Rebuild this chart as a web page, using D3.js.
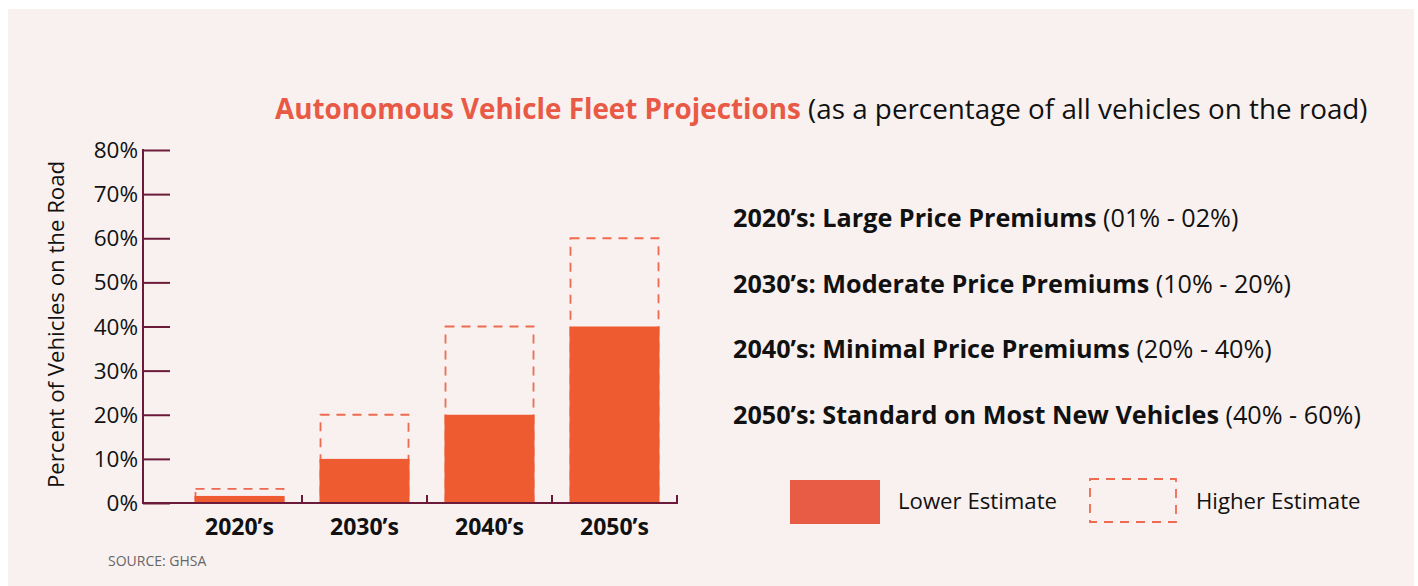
<!DOCTYPE html>
<html>
<head>
<meta charset="utf-8">
<script src="https://cdn.jsdelivr.net/npm/d3@7"></script>
<style>
  body { margin: 0; background: #fff; }
  svg text { font-family: "Open Sans", "Noto Sans", sans-serif; }
</style>
</head>
<body>
<div id="chart"></div>
<script>
// chart data
const decades = ["2020\u2019s", "2030\u2019s", "2040\u2019s", "2050\u2019s"];
const lowerEstimate = [1.6, 10, 20, 40];
const higherEstimate = [3.2, 20, 40, 60];
const yTicks = [0, 10, 20, 30, 40, 50, 60, 70, 80];
const notes = [
    { bold: "2020\u2019s: Large Price Premiums", rest: " (01% - 02%)" },
    { bold: "2030\u2019s: Moderate Price Premiums", rest: " (10% - 20%)" },
    { bold: "2040\u2019s: Minimal Price Premiums", rest: " (20% - 40%)" },
    { bold: "2050\u2019s: Standard on Most New Vehicles", rest: " (40% - 60%)" }
];

const W = 1418, H = 586;
const axisColor = "#6b1a3a";
const barColor = "#ee5b30";
const dashColor = "#ee6a50";

const svg = d3.select("#chart")
    .append("svg")
    .attr("width", W)
    .attr("height", H);

// background panel
svg.append("rect")
    .attr("x", 8).attr("y", 9)
    .attr("width", 1406).attr("height", 577)
    .attr("fill", "#f9f1f0");

// scales
const yScale = d3.scaleLinear().domain([0, 80]).range([503, 150]);
const xScale = d3.scaleBand()
    .domain(decades)
    .range([177, 677])
    .paddingInner(0.28)
    .paddingOuter(0.14);

// y axis (ticks pointing right)
const yAxis = svg.append("g")
    .attr("transform", "translate(143,0)")
    .call(d3.axisRight(yScale).tickValues(yTicks).tickSize(27).tickFormat(""));
yAxis.select(".domain").remove();
yAxis.selectAll("line").attr("stroke", axisColor).attr("stroke-width", 2);
svg.append("line")
    .attr("x1", 143).attr("x2", 143)
    .attr("y1", yScale(80) - 1).attr("y2", yScale(0) + 1)
    .attr("stroke", axisColor).attr("stroke-width", 2);

svg.append("g").selectAll("text")
    .data(yTicks)
    .enter().append("text")
    .attr("x", 138)
    .attr("y", d => yScale(d) + 8)
    .attr("text-anchor", "end")
    .attr("font-size", 22.5)
    .attr("fill", "#111")
    .text(d => d + "%");

// y axis title
svg.append("text")
    .attr("transform", "translate(64," + (yScale(40) - 2) + ") rotate(-90)")
    .attr("text-anchor", "middle")
    .attr("font-size", 22.2)
    .attr("fill", "#111")
    .text("Percent of Vehicles on the Road");

// higher estimate (dashed outlines)
svg.selectAll(".high")
    .data(decades)
    .enter().append("rect")
    .attr("class", "high")
    .attr("x", d => xScale(d) + 1)
    .attr("y", (d, i) => yScale(higherEstimate[i]))
    .attr("width", xScale.bandwidth() - 2)
    .attr("height", (d, i) => yScale(0) - yScale(higherEstimate[i]))
    .attr("fill", "none")
    .attr("stroke", dashColor)
    .attr("stroke-width", 1.8)
    .attr("stroke-dasharray", "9,7");

// lower estimate bars
svg.selectAll(".low")
    .data(decades)
    .enter().append("rect")
    .attr("class", "low")
    .attr("x", d => xScale(d))
    .attr("y", (d, i) => yScale(lowerEstimate[i]))
    .attr("width", xScale.bandwidth())
    .attr("height", (d, i) => yScale(0) - yScale(lowerEstimate[i]))
    .attr("fill", barColor);

// x axis
const tickX = d => xScale(d) + xScale.bandwidth() + xScale.step() * 0.14;
svg.append("line")
    .attr("x1", 143).attr("x2", tickX(decades[3]) + 1)
    .attr("y1", 503).attr("y2", 503)
    .attr("stroke", axisColor).attr("stroke-width", 2);
svg.selectAll(".xtick")
    .data(decades)
    .enter().append("line")
    .attr("class", "xtick")
    .attr("x1", tickX)
    .attr("x2", tickX)
    .attr("y1", 503).attr("y2", 495)
    .attr("stroke", axisColor).attr("stroke-width", 2);
svg.selectAll(".xlabel")
    .data(decades)
    .enter().append("text")
    .attr("class", "xlabel")
    .attr("x", d => xScale(d) + xScale.bandwidth() / 2)
    .attr("y", 535)
    .attr("text-anchor", "middle")
    .attr("font-size", 23)
    .attr("font-weight", "bold")
    .attr("fill", "#111")
    .text(d => d);

// title
const title = svg.append("text")
    .attr("x", 275).attr("y", 119)
    .attr("font-size", 27.8);
title.append("tspan")
    .attr("font-weight", "bold")
    .attr("fill", "#e85a45")
    .text("Autonomous Vehicle Fleet Projections");
title.append("tspan")
    .attr("fill", "#111")
    .text(" (as a percentage of all vehicles on the road)");

// notes on the right
svg.selectAll(".note")
    .data(notes)
    .enter().append("text")
    .attr("class", "note")
    .attr("x", 733)
    .attr("y", (d, i) => 227 + i * 65.7)
    .attr("font-size", 25.2)
    .attr("fill", "#111")
    .each(function(d) {
        const t = d3.select(this);
        t.append("tspan").attr("font-weight", "bold").text(d.bold);
        t.append("tspan").text(d.rest);
    });

// legend
svg.append("rect")
    .attr("x", 790).attr("y", 480)
    .attr("width", 90).attr("height", 44)
    .attr("fill", "#e85c45");
svg.append("text")
    .attr("x", 898).attr("y", 509)
    .attr("font-size", 22.2).attr("fill", "#111")
    .text("Lower Estimate");
svg.append("rect")
    .attr("x", 1090).attr("y", 479)
    .attr("width", 86).attr("height", 43)
    .attr("fill", "none")
    .attr("stroke", dashColor)
    .attr("stroke-width", 1.8)
    .attr("stroke-dasharray", "9,7");
svg.append("text")
    .attr("x", 1196).attr("y", 509)
    .attr("font-size", 22.2).attr("fill", "#111")
    .text("Higher Estimate");

// source
svg.append("text")
    .attr("x", 108).attr("y", 566)
    .attr("font-size", 14).attr("fill", "#666")
    .text("SOURCE: GHSA");
</script>
</body>
</html>
